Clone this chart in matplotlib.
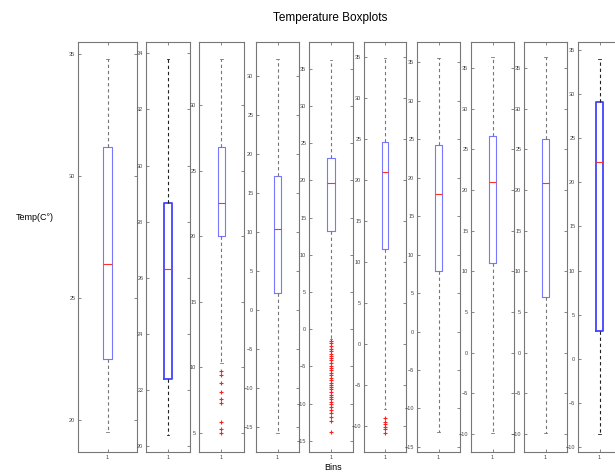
import matplotlib
matplotlib.use("Agg")
import matplotlib.pyplot as plt

plt.rcParams['font.family'] = ['Liberation Sans', 'DejaVu Sans']

# box statistics per bin
whis_hi = [34.8, 33.8, 33.5, 32.2, 36.2, 34.8, 35.5, 36.3, 36.3, 34.0]
q3 = [31.2, 28.65, 26.8, 17.2, 23.0, 24.6, 24.2, 26.7, 26.3, 29.1]
medians = [26.4, 26.3, 22.5, 10.4, 19.6, 20.9, 17.9, 21.0, 20.9, 22.3]
q1 = [22.5, 22.4, 20.0, 2.2, 13.2, 11.6, 7.9, 11.0, 6.8, 3.2]
whis_lo = [19.5, 20.4, 10.3, -15.8, -1.3, -7.9, -13.1, -9.9, -9.9, -8.5]
outliers = [
    [],
    [],
    [9.7, 9.4, 8.8, 8.1, 7.6, 7.3, 5.8, 5.3, 5.0],
    [],
    [-1.6, -1.9, -2.3, -2.6, -2.9, -3.3, -3.6, -3.9, -4.2, -4.6, -4.9, -5.2,
     -5.5, -5.9, -6.2, -6.5, -6.8, -7.2, -7.5, -7.8, -8.1, -8.5, -8.8, -9.1,
     -9.4, -9.8, -10.1, -10.5, -10.9, -11.3, -11.8, -12.3, -13.8],
    [-9.1, -9.5, -9.8, -10.1, -10.4, -10.9],
    [], [], [], [],
]
ylims = [(18.7, 35.5), (19.8, 34.4), (3.55, 34.8), (-18.2, 34.4), (-16.5, 38.6),
         (-13.2, 36.8), (-15.65, 37.6), (-12.2, 38.2), (-12.2, 38.2), (-10.57, 35.9)]
ytick_step = [5, 2, 5, 5, 5, 5, 5, 5, 5, 5]
bold = [False, True, False, False, False, False, False, False, False, True]

# panel edges in pixels (left, right)
edges = [(78, 137), (146, 190), (199, 244), (256, 299), (309, 353),
         (364, 406), (417, 460), (471, 514), (524, 567), (578, 621)]
W, H = 615, 474
top, bottom = 42, 452

fig = plt.figure(figsize=(W / 100, H / 100), dpi=100)
fig.patch.set_facecolor('white')

for i in range(10):
    l, r = edges[i]
    ax = fig.add_axes([l / W, 1 - bottom / H, (r - l) / W, (bottom - top) / H])
    st = dict(med=medians[i], q1=q1[i], q3=q3[i], whislo=whis_lo[i],
              whishi=whis_hi[i], fliers=outliers[i])
    lw = 1.3 if bold[i] else 0.8
    wc = '#222222' if bold[i] else '#777777'
    bc = '#4444ff' if bold[i] else '#7777ff'
    ax.bxp([st], positions=[1], widths=0.16, capwidths=0.06, showfliers=True,
           boxprops=dict(color=bc, linewidth=lw),
           medianprops=dict(color='#ff3030', linewidth=0.8),
           whiskerprops=dict(color=wc, linewidth=0.8, linestyle=(0, (3, 2.5))),
           capprops=dict(color=wc, linewidth=0.6),
           flierprops=dict(marker='+', color='#ff2020', markeredgecolor='#ff2020',
                           markerfacecolor='#ff2020', markersize=3.5,
                           markeredgewidth=0.8, linestyle='none'))
    ax.set_xlim(0.5, 1.5)
    lo, hi = ylims[i]
    ax.set_ylim(lo, hi)
    s = ytick_step[i]
    first = int(-(-lo // s)) * s
    ax.set_yticks(list(range(int(first), int(hi) + 1, s)))
    ax.set_xticks([1])
    ax.set_xticklabels(['1'])
    ax.tick_params(axis='both', direction='in', length=2.5, width=0.5,
                   color='#555555', labelsize=4, labelcolor='#444444', pad=2)
    ax.tick_params(axis='y', right=True)
    ax.tick_params(axis='x', top=True)
    for sp in ax.spines.values():
        sp.set_color('#777777')
        sp.set_linewidth(0.8)

fig.text(330 / W, 1 - 18 / H, 'Temperature Boxplots', ha='center', va='center', fontsize=8.5)
fig.text(333 / W, 1 - 467 / H, 'Bins', ha='center', va='center', fontsize=6.5)
fig.text(35 / W, 1 - 217 / H, 'Temp(C°)', ha='center', va='center', fontsize=6.5)

fig.savefig('out.png', dpi=100)
